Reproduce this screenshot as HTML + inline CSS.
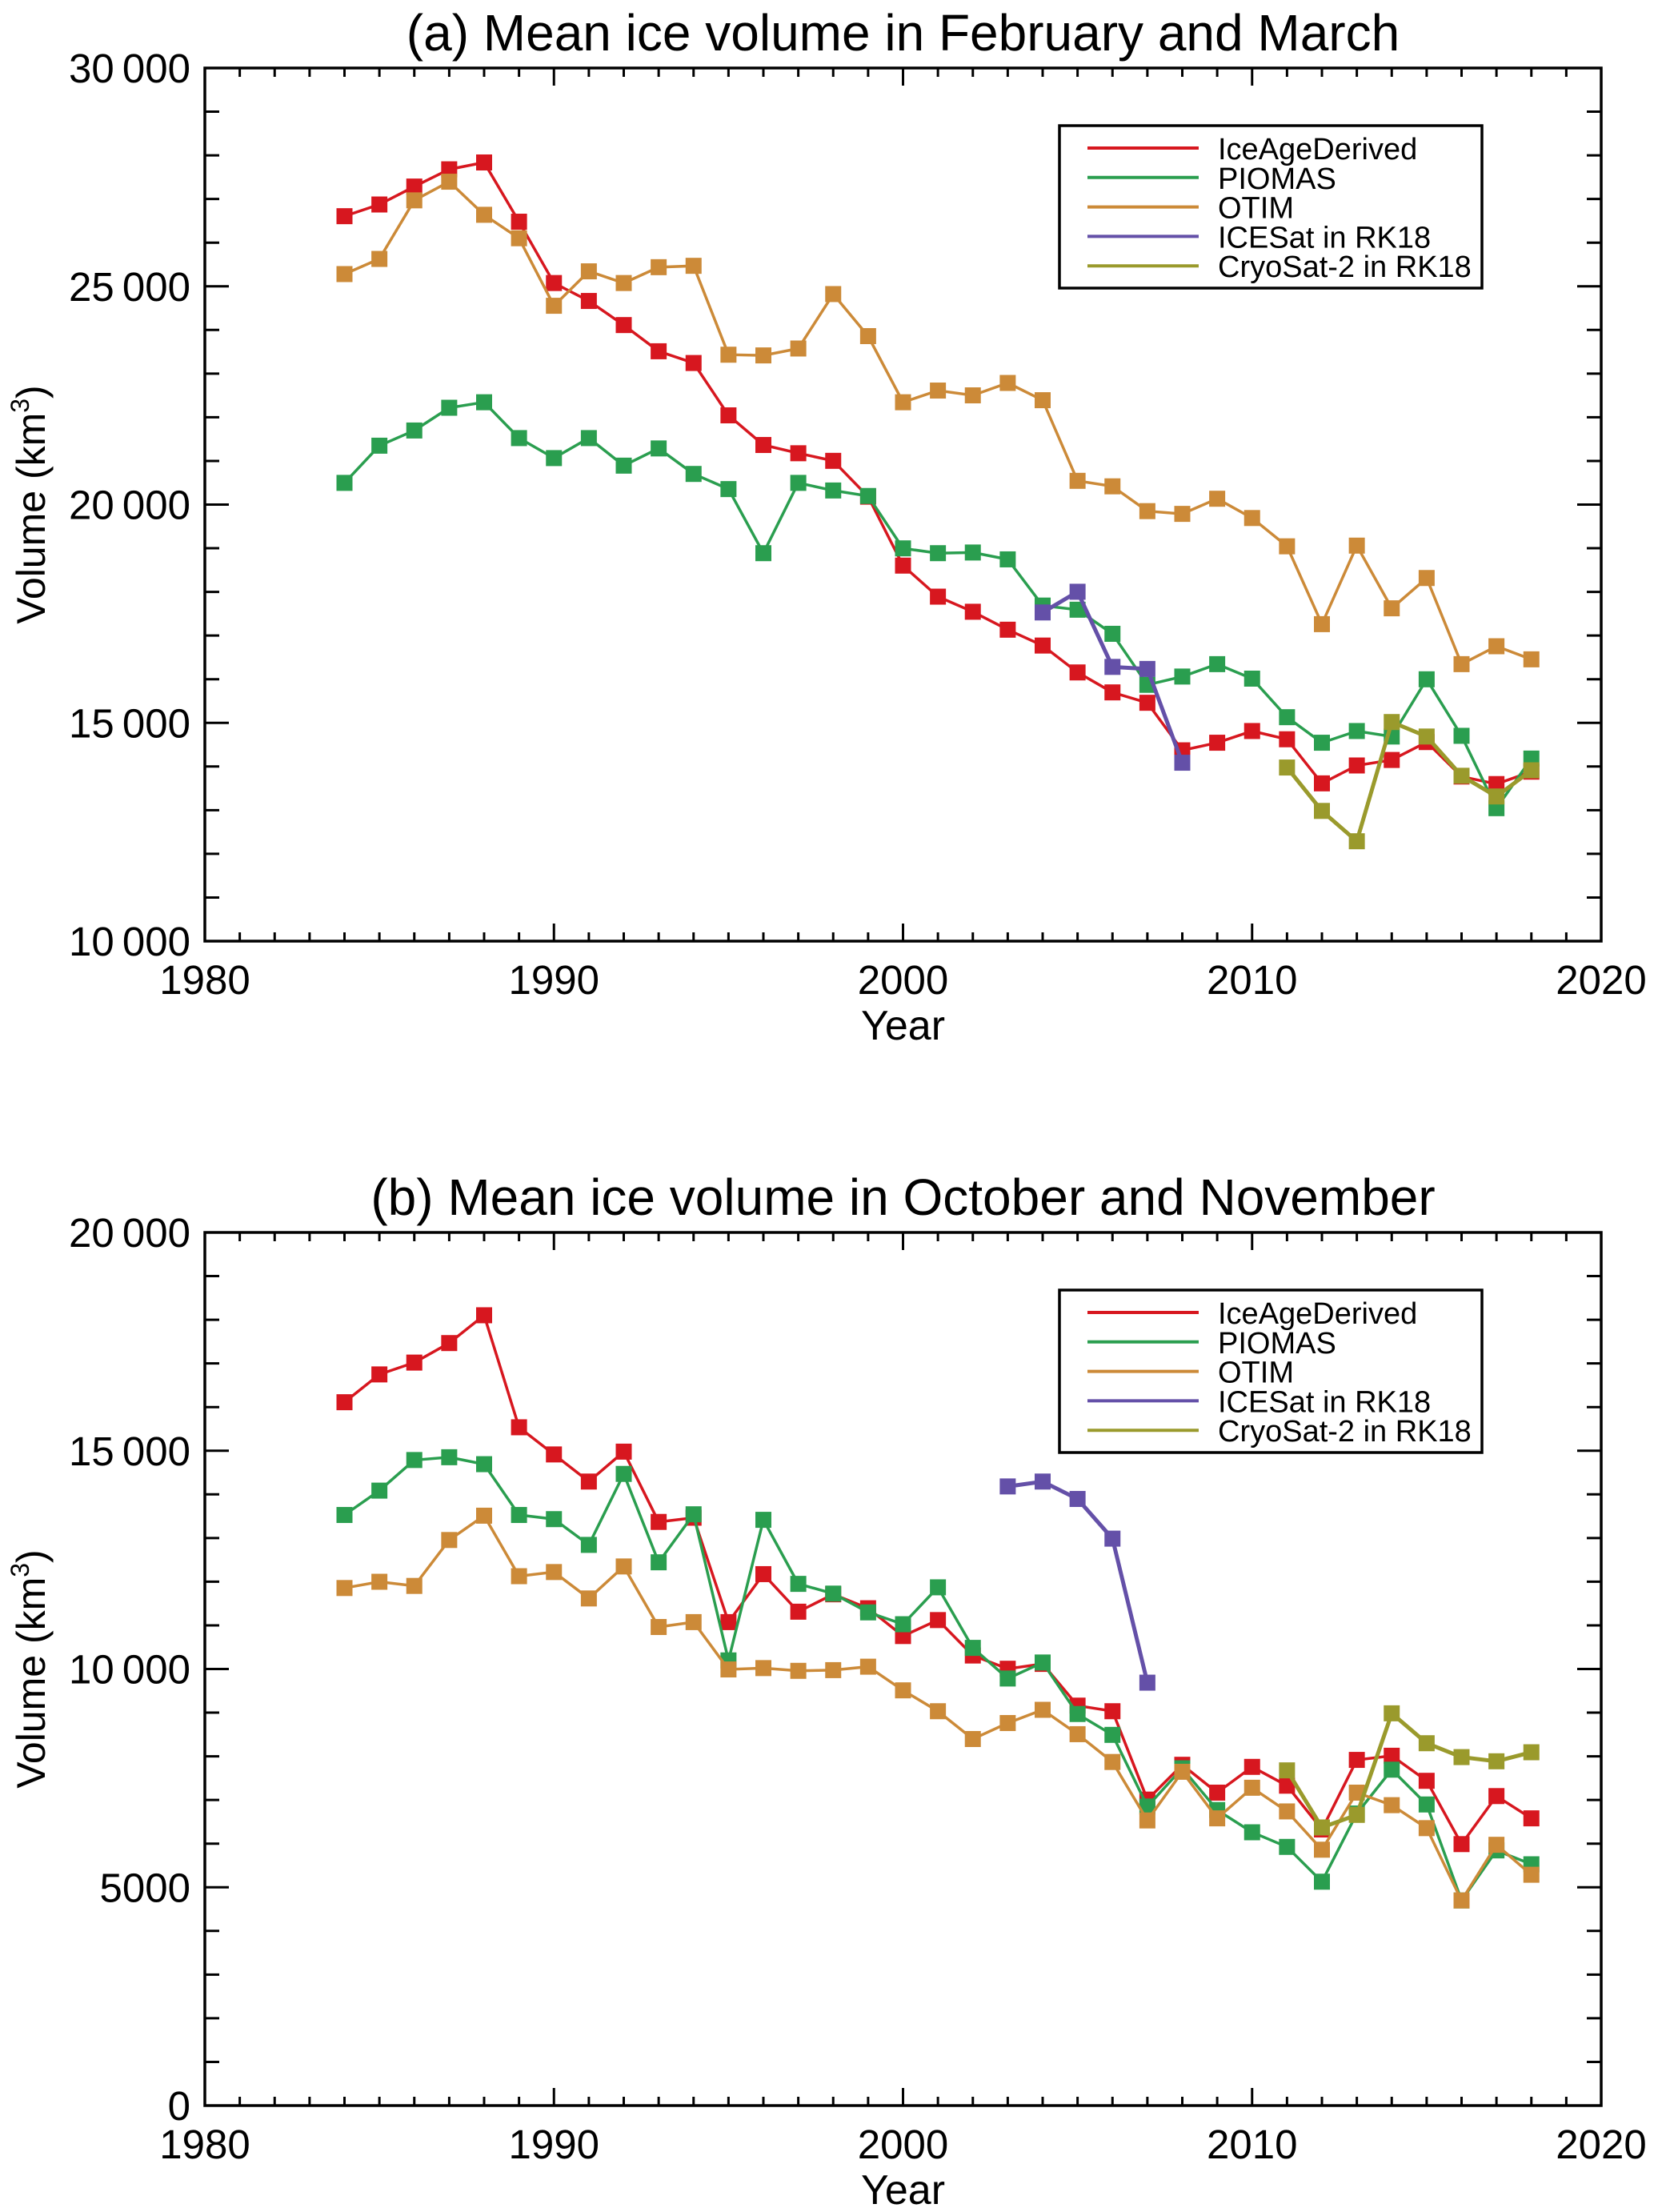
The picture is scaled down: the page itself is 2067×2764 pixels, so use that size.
<!DOCTYPE html>
<html><head><meta charset="utf-8"><style>
html,body{margin:0;padding:0;background:#fff}
svg{display:block}
text{font-family:"Liberation Sans",Arial,sans-serif;fill:#000}
</style></head><body>
<svg id="fig" width="2067" height="2764" viewBox="0 0 2067 2764" xmlns="http://www.w3.org/2000/svg"></svg>
<script>
const years = [1984,1985,1986,1987,1988,1989,1990,1991,1992,1993,1994,1995,1996,1997,1998,1999,2000,2001,2002,2003,2004,2005,2006,2007,2008,2009,2010,2011,2012,2013,2014,2015,2016,2017,2018];
const aIceAge = [26606,26874,27285,27680,27837,26480,25075,24664,24112,23512,23243,22044,21365,21176,21002,20181,18602,17891,17545,17134,16771,16155,15698,15460,14371,14545,14813,14624,13614,14024,14150,14560,13771,13598,13882];
const aPiomas = [20497,21349,21697,22218,22344,21523,21065,21523,20892,21286,20702,20355,18887,20497,20323,20197,18997,18887,18902,18745,17687,17592,17040,15871,16061,16345,16013,15130,14545,14813,14687,15998,14703,13046,14182];
const aOtim = [25280,25627,26969,27396,26638,26101,24554,25343,25075,25438,25469,23433,23417,23575,24822,23859,22344,22612,22502,22786,22391,20544,20418,19850,19787,20134,19692,19044,17261,19060,17624,18318,16345,16755,16455];
const aIcesatYears = [2004,2005,2006,2007,2008];
const aIcesat = [17529,18003,16282,16235,14087];
const aCryoYears = [2011,2012,2013,2014,2015,2016,2017,2018];
const aCryo = [13977,12983,12288,15019,14687,13788,13314,13914];
const bIceAge = [16111,16748,17019,17466,18103,15537,14915,14294,14979,13369,13465,11074,12173,11313,11711,11392,10755,11121,10309,10006,10117,9161,9033,7009,7806,7168,7758,7327,6324,7918,8013,7439,5989,7089,6579];
const bPiomas = [13528,14086,14787,14851,14692,13528,13433,12843,14469,12444,13544,10197,13417,11950,11727,11297,11026,11871,10484,9782,10149,8969,8491,6850,7726,6770,6260,5925,5128,6690,7694,6897,4698,5845,5527];
const bOtim = [11855,11998,11903,12955,13512,12126,12221,11616,12349,10962,11074,9990,10021,9958,9974,10053,9511,9033,8396,8762,9065,8507,7870,6531,7646,6579,7280,6738,5861,7168,6881,6355,4698,5973,5287];
const bIcesatYears = [2003,2004,2005,2006,2007];
const bIcesat = [14182,14294,13895,12986,9687];
const bCryoYears = [2011,2012,2013,2014,2015,2016,2017,2018];
const bCryo = [7678,6371,6658,8985,8300,7982,7886,8093];
const xTickLabels = ["1980","1990","2000","2010","2020"];
const aYTickLabels = ["10\u2009000","15\u2009000","20\u2009000","25\u2009000","30\u2009000"];
const bYTickLabels = ["0","5000","10\u2009000","15\u2009000","20\u2009000"];
const legendNames = ["IceAgeDerived","PIOMAS","OTIM","ICESat in RK18","CryoSat-2 in RK18"];

const COLORS = ["#d7171f","#2a9e4f","#cc8a38","#6450a8","#9a9a2c"];
const NS = "http://www.w3.org/2000/svg";
const fig = document.getElementById('fig');
function mk(tag, attrs, parent){const e=document.createElementNS(NS,tag);for(const k in attrs)e.setAttribute(k,attrs[k]);(parent||fig).appendChild(e);return e;}

function panel(id, top, ymin, ymax, title, yLabels, series){
  const L=256,R=2001,T=top,B=top+1091;
  const g=mk('g',{});
  
  
  const xs=v=>L+(v-1980)/40*(R-L);
  const ys=v=>B-(v-ymin)/(ymax-ymin)*(B-T);
  const t=mk('text',{x:(L+R)/2,y:T-22,'font-size':64,'text-anchor':'middle'},g);t.textContent=title;
  
  
  for(let y=1980;y<=2020;y++){
    const major=(y%10===0), len=major?22:11, x=xs(y);
    mk('line',{x1:x,y1:B,x2:x,y2:B-len,stroke:'#000','stroke-width':3},g);
    mk('line',{x1:x,y1:T,x2:x,y2:T+len,stroke:'#000','stroke-width':3},g);
  }
  xTickLabels.forEach((s,i)=>{
    const tl=mk('text',{x:xs(1980+i*10),y:B+66,'font-size':51,'text-anchor':'middle'},g);tl.textContent=s;
    
    
  });
  for(let v=ymin;v<=ymax;v+=1000){
    const major=((v-ymin)%5000===0), len=major?30:18, y=ys(v);
    mk('line',{x1:L,y1:y,x2:L+len,y2:y,stroke:'#000','stroke-width':3},g);
    mk('line',{x1:R,y1:y,x2:R-len,y2:y,stroke:'#000','stroke-width':3},g);
  }
  yLabels.forEach((s,i)=>{
    const tl=mk('text',{x:238,y:ys(ymin+i*5000)+18,'font-size':51,'text-anchor':'end'},g);tl.textContent=s;
    
    
  });
  const fr=mk('rect',{x:L,y:T,width:R-L,height:B-T,fill:'none',stroke:'#000','stroke-width':3.5},g);
  
  
  const xt=mk('text',{x:(L+R)/2,y:B+123,'font-size':52,'text-anchor':'middle'},g);xt.textContent='Year';
  
  
  const cy=(T+B)/2;
  const yt=mk('text',{x:0,y:0,'font-size':50,'text-anchor':'middle',transform:`translate(56,${cy}) rotate(-90)`},g);
  yt.innerHTML='Volume (km<tspan dy="-20" font-size="32">3</tspan><tspan dy="20">)</tspan>';
  
  
  series.forEach((s,si)=>{
    const sg=mk('g',{},g);
    
    
    const pts=s.x.map((x,i)=>xs(x).toFixed(1)+','+ys(s.v[i]).toFixed(1)).join(' ');
    mk('polyline',{points:pts,fill:'none',stroke:COLORS[si],'stroke-width':si>=3?5:3.5},sg);
    s.x.forEach((x,i)=>{
      const r=mk('rect',{x:xs(x)-10,y:ys(s.v[i])-10,width:20,height:20,fill:COLORS[si]},sg);
      
      
    });
  });
  const lg=mk('g',{},g);
  
  
  const lt=T+72;
  mk('rect',{x:1324,y:lt,width:528,height:203,fill:'#fff',stroke:'#000','stroke-width':3.5},lg);
  legendNames.forEach((n,i)=>{
    const y=lt+28+i*36.8;
    mk('line',{x1:1359,y1:y,x2:1498,y2:y,stroke:COLORS[i],'stroke-width':4},lg);
    const tx=mk('text',{x:1522,y:y+14,'font-size':38},lg);tx.textContent=n;
    
    
  });
}
panel('panel-a',85,10000,30000,'(a) Mean ice volume in February and March',aYTickLabels,[
  {x:years,v:aIceAge},{x:years,v:aPiomas},{x:years,v:aOtim},{x:aIcesatYears,v:aIcesat},{x:aCryoYears,v:aCryo}]);
panel('panel-b',1540,0,20000,'(b) Mean ice volume in October and November',bYTickLabels,[
  {x:years,v:bIceAge},{x:years,v:bPiomas},{x:years,v:bOtim},{x:bIcesatYears,v:bIcesat},{x:bCryoYears,v:bCryo}]);
</script>
</body></html>
